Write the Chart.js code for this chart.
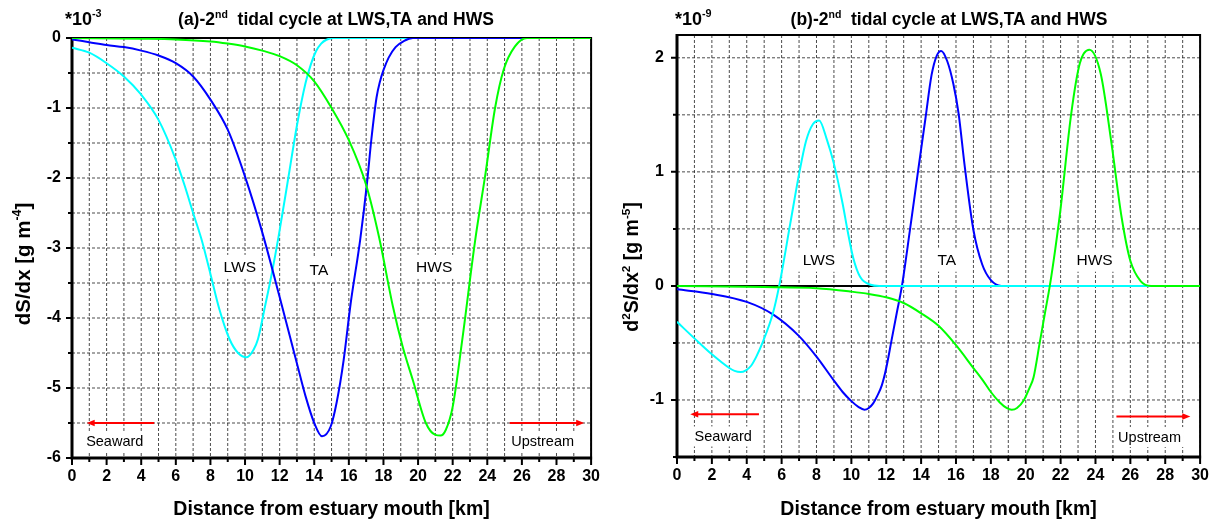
<!DOCTYPE html>
<html>
<head>
<meta charset="utf-8">
<script src="https://cdn.jsdelivr.net/npm/chart.js@4.4.1/dist/chart.umd.min.js"></script>
<style>
  html, body { margin: 0; padding: 0; background: #fff; }
  #wrap { position: relative; width: 1218px; height: 526px; overflow: hidden; background: #fff; }
  #wrap canvas { position: absolute; top: 0; }
  #panelA { left: 0; }
  #panelB { left: 609px; }
</style>
</head>
<body>
<div id="wrap">
  <canvas id="panelA" width="609" height="526"></canvas>
  <canvas id="panelB" width="609" height="526"></canvas>
</div>
<script>
const FONT = "'Liberation Sans', Arial, Helvetica, sans-serif";

// ---- (a) salinity gradient dS/dx  [x 1e-3 g m^-4] ----
const kmLwsA = [0, 1, 2, 3, 4, 5, 6, 6.5, 7, 7.5, 8, 8.5, 9.1, 9.6, 10.1, 10.5, 10.75, 11.15, 11.55, 11.95, 12.5, 13, 13.5, 13.8, 14.1, 14.4, 14.7, 15.1, 30];
const dSdxLws = [-0.14, -0.21, -0.36, -0.55, -0.81, -1.17, -1.74, -2.1, -2.5, -2.89, -3.37, -3.86, -4.3, -4.5, -4.56, -4.45, -4.3, -3.84, -3.36, -2.82, -2.0, -1.25, -0.64, -0.38, -0.19, -0.08, -0.025, 0, 0];

const kmTaA = [0, 1, 2, 3, 4, 5, 6, 7, 8, 9, 10, 11, 12, 13, 13.5, 14, 14.45, 14.95, 15.3, 15.7, 16.1, 16.65, 17.05, 17.3, 17.6, 17.8, 18.0, 18.3, 18.7, 19.2, 19.7, 30];
const dSdxTa = [-0.02, -0.06, -0.1, -0.13, -0.18, -0.25, -0.36, -0.55, -0.88, -1.31, -1.98, -2.78, -3.7, -4.65, -5.12, -5.5, -5.69, -5.55, -5.2, -4.6, -3.8, -2.89, -2.07, -1.45, -0.85, -0.62, -0.46, -0.28, -0.13, -0.04, 0, 0];

const kmHwsA = [0, 4, 6, 8, 9, 10, 11, 12, 13, 14, 15, 16, 17, 17.75, 18.55, 19.1, 19.7, 20.45, 21.0, 21.3, 21.6, 22.0, 22.55, 23.3, 23.9, 24.45, 24.95, 25.6, 26.3, 30];
const dSdxHws = [0, -0.01, -0.02, -0.05, -0.08, -0.12, -0.18, -0.26, -0.39, -0.62, -1.0, -1.46, -2.1, -2.85, -3.84, -4.4, -4.89, -5.5, -5.67, -5.68, -5.6, -5.27, -4.32, -2.89, -1.93, -1.0, -0.45, -0.12, 0, 0];

// ---- (b) curvature d2S/dx2  [x 1e-9 g m^-5] ----
const kmLwsB = [0, 1, 2, 3, 3.3, 3.65, 3.95, 4.25, 4.55, 4.9, 5.5, 5.86, 6.5, 7, 7.4, 7.8, 8.15, 8.6, 9, 9.5, 9.8, 10.1, 10.5, 11.1, 11.6, 30];
const d2SLws = [-0.315, -0.46, -0.6, -0.72, -0.745, -0.755, -0.74, -0.7, -0.62, -0.5, -0.24, 0, 0.55, 0.98, 1.27, 1.42, 1.45, 1.28, 1.07, 0.72, 0.47, 0.25, 0.08, 0.01, 0, 0];

const kmTaB = [0, 2, 4, 5.5, 7, 8, 9, 9.5, 10, 10.4, 10.75, 11.0, 11.25, 11.5, 11.75, 12.0, 12.3, 12.6, 12.9, 13.35, 13.8, 14.25, 14.6, 14.9, 15.15, 15.5, 15.85, 16.15, 16.5, 17, 17.5, 18, 18.6, 30];
const d2STa = [-0.03, -0.07, -0.14, -0.25, -0.44, -0.62, -0.83, -0.93, -1.01, -1.06, -1.085, -1.07, -1.03, -0.96, -0.87, -0.72, -0.48, -0.24, 0, 0.48, 0.98, 1.47, 1.85, 2.02, 2.06, 1.97, 1.77, 1.51, 1.05, 0.49, 0.19, 0.05, 0, 0];

const kmHwsB = [0, 5, 8, 10, 11, 12, 13, 14, 15, 16, 17, 17.55, 18, 18.5, 18.9, 19.2, 19.5, 19.9, 20.2, 20.45, 20.8, 21.1, 21.38, 21.7, 22, 22.6, 23.1, 23.65, 24.3, 24.9, 25.5, 26, 26.6, 27.2, 30];
const d2SHws = [0, -0.01, -0.02, -0.05, -0.07, -0.1, -0.15, -0.24, -0.35, -0.52, -0.72, -0.83, -0.93, -1.02, -1.07, -1.085, -1.07, -1.0, -0.9, -0.8, -0.5, -0.24, 0, 0.33, 0.68, 1.5, 1.95, 2.07, 1.86, 1.27, 0.6, 0.22, 0.04, 0, 0];

const kmZero = [0, 30];
const zeroLine = [0, 0];

// ---- tick labels ----
const xTickLabels = [0, 2, 4, 6, 8, 10, 12, 14, 16, 18, 20, 22, 24, 26, 28, 30];
const yTickLabelsA = [0, -1, -2, -3, -4, -5, -6];
const yTickLabelsB = [-1, 0, 1, 2];

// ---- phase labels and direction notes (data coordinates) ----
const phaseLabelsA = [['LWS', 9.7, -3.27], ['TA', 14.27, -3.31], ['HWS', 20.93, -3.27]];
const phaseLabelsB = [['LWS', 8.14, 0.23], ['TA', 15.47, 0.23], ['HWS', 23.95, 0.23]];
// [text, textX, textY, arrowTail, arrowHead, arrowY]
const directionA = [['Seaward', 2.47, -5.76, 4.75, 0.85, -5.5], ['Upstream', 27.2, -5.76, 25.3, 29.6, -5.5]];
const directionB = [['Seaward', 2.65, -1.32, 4.7, 0.76, -1.125], ['Upstream', 27.1, -1.325, 25.2, 29.44, -1.145]];

const CYAN = '#00ffff', BLUE = '#0000ff', GREEN = '#00ff00';

function series(xs, ys, color, width) {
  return {
    data: xs.map((x, i) => ({ x, y: ys[i] })),
    borderColor: color,
    borderWidth: width || 2,
    pointRadius: 0,
    fill: false,
    cubicInterpolationMode: 'monotone'
  };
}

function drawRich(ctx, parts, x, y, size, align) {
  const fontFor = sup => `bold ${sup ? size * 0.6 : size}px ${FONT}`;
  let total = 0;
  parts.forEach(([t, sup]) => { ctx.font = fontFor(sup); total += ctx.measureText(t).width; });
  let cx = align === 'center' ? x - total / 2 : x;
  ctx.textAlign = 'left';
  ctx.textBaseline = 'alphabetic';
  parts.forEach(([t, sup]) => {
    ctx.font = fontFor(sup);
    ctx.fillText(t, cx, sup ? y - size * 0.42 : y);
    cx += ctx.measureText(t).width;
  });
}

function arrow(ctx, x0, x1, y) {
  const dir = x1 > x0 ? 1 : -1;
  ctx.beginPath();
  ctx.moveTo(x0, y);
  ctx.lineTo(x1 - dir * 6, y);
  ctx.stroke();
  ctx.beginPath();
  ctx.moveTo(x1, y);
  ctx.lineTo(x1 - dir * 8, y - 3.2);
  ctx.lineTo(x1 - dir * 8, y + 3.2);
  ctx.closePath();
  ctx.fill();
}

function makeDecor(p) {
  return {
    id: 'decor',
    beforeDatasetsDraw(chart) {
      const { ctx, chartArea: a, scales: { x, y } } = chart;
      ctx.save();
      // dashed grid every 1 km and every 0.5 units
      ctx.strokeStyle = 'rgba(30,30,30,0.8)';
      ctx.lineWidth = 1;
      ctx.setLineDash([3, 2]);
      ctx.beginPath();
      for (let v = 0; v <= 30; v++) {
        const px = x.getPixelForValue(v);
        ctx.moveTo(px, a.top); ctx.lineTo(px, a.bottom);
      }
      for (let v = p.yMin; v <= p.yMax + 1e-9; v += 0.5) {
        const py = y.getPixelForValue(v);
        ctx.moveTo(a.left, py); ctx.lineTo(a.right, py);
      }
      ctx.stroke();
      ctx.setLineDash([]);

      // frame: heavier left and bottom axes
      ctx.strokeStyle = '#000';
      ctx.lineWidth = 2;
      ctx.beginPath();
      ctx.moveTo(a.left, a.top); ctx.lineTo(a.right, a.top); ctx.lineTo(a.right, a.bottom);
      ctx.stroke();
      ctx.lineWidth = 3;
      ctx.beginPath();
      ctx.moveTo(a.left, a.top - 1); ctx.lineTo(a.left, a.bottom); ctx.lineTo(a.right + 1, a.bottom);
      ctx.stroke();

      // outward tick marks
      ctx.lineWidth = 2;
      ctx.beginPath();
      for (let v = 0; v <= 30; v++) {
        const px = x.getPixelForValue(v);
        const len = v % 2 === 0 ? 7 : 4;
        ctx.moveTo(px, a.bottom); ctx.lineTo(px, a.bottom + len);
      }
      for (let v = p.yMin; v <= p.yMax + 1e-9; v += 0.5) {
        const py = y.getPixelForValue(v);
        const len = Number.isInteger(v) ? 6 : 4;
        ctx.moveTo(a.left, py); ctx.lineTo(a.left - len, py);
      }
      ctx.stroke();

      // phase labels on white backing
      ctx.font = `15.5px ${FONT}`;
      ctx.textAlign = 'center';
      ctx.textBaseline = 'middle';
      p.labels.forEach(([t, lx, ly]) => {
        const px = x.getPixelForValue(lx), py = y.getPixelForValue(ly);
        const w = ctx.measureText(t).width + 10;
        ctx.fillStyle = '#fff';
        ctx.fillRect(px - w / 2, py - 12, w, 24);
        ctx.fillStyle = '#000';
        ctx.fillText(t, px, py + 1);
      });

      // direction notes
      ctx.font = `14.5px ${FONT}`;
      p.dirs.forEach(([t, tx, ty, a0, a1, ay]) => {
        const px = x.getPixelForValue(tx), py = y.getPixelForValue(ty);
        const w = ctx.measureText(t).width + 6;
        ctx.fillStyle = '#fff';
        ctx.fillRect(px - w / 2, py - 10, w, 20);
        ctx.fillStyle = '#000';
        ctx.fillText(t, px, py + 1);
        ctx.strokeStyle = '#ff0000';
        ctx.fillStyle = '#ff0000';
        ctx.lineWidth = 2;
        arrow(ctx, x.getPixelForValue(a0), x.getPixelForValue(a1), y.getPixelForValue(ay));
      });

      // panel title, multiplier and y-axis title
      ctx.fillStyle = '#000';
      drawRich(ctx, p.title, p.titleX, 25, 17.5, 'center');
      drawRich(ctx, p.mult, p.multX, 25, 18, 'left');
      ctx.translate(p.yTitleX, p.yTitleY);
      ctx.rotate(-Math.PI / 2);
      drawRich(ctx, p.yTitle, 0, 7, p.yTitleSize, 'center');
      ctx.restore();
    }
  };
}

function makePanel(id, p) {
  return new Chart(document.getElementById(id), {
    type: 'line',
    data: { datasets: p.datasets },
    options: {
      responsive: false,
      animation: false,
      events: [],
      layout: { padding: { left: 0, right: p.padR, top: p.padT, bottom: 0 } },
      plugins: { legend: { display: false }, tooltip: { enabled: false }, title: { display: false } },
      scales: {
        x: {
          type: 'linear', min: 0, max: 30,
          grid: { display: false, drawTicks: false }, border: { display: false },
          afterBuildTicks: s => { s.ticks = []; for (let v = 0; v <= 30; v++) s.ticks.push({ value: v }); },
          ticks: {
            autoSkip: false, maxRotation: 0, padding: 9, color: '#000',
            font: { family: FONT, size: 16, weight: 'bold' },
            callback: v => xTickLabels.includes(v) ? String(v) : ''
          },
          title: {
            display: true, text: 'Distance from estuary mouth [km]', color: '#000',
            font: { family: FONT, size: 19.5, weight: 'bold' }, padding: { top: 0, bottom: 5 }
          },
          afterFit: s => { s.height = p.xH; }
        },
        y: {
          type: 'linear', min: p.yMin, max: p.yMax,
          grid: { display: false, drawTicks: false }, border: { display: false },
          afterBuildTicks: s => { s.ticks = []; for (let v = p.yMin; v <= p.yMax + 1e-9; v += 0.5) s.ticks.push({ value: v }); },
          ticks: {
            autoSkip: false, padding: p.yPad, color: '#000',
            font: { family: FONT, size: 16, weight: 'bold' },
            callback: v => p.yLabels.includes(v) ? String(v) : ''
          },
          afterFit: s => { s.width = p.yW; }
        }
      }
    },
    plugins: [makeDecor(p)]
  });
}

makePanel('panelA', {
  datasets: [
    series(kmHwsA, dSdxHws, GREEN),
    series(kmTaA, dSdxTa, BLUE),
    series(kmLwsA, dSdxLws, CYAN)
  ],
  yMin: -6, yMax: 0, yLabels: yTickLabelsA,
  yW: 72, padR: 16, padT: 38, xH: 68, yPad: 11,
  labels: phaseLabelsA, dirs: directionA,
  title: [['(a)-2', 0], ['nd', 1], ['  tidal cycle at LWS,TA and HWS', 0]], titleX: 336,
  mult: [['*10', 0], ['-3', 1]], multX: 65,
  yTitle: [['dS/dx [g m', 0], ['-4', 1], [']', 0]], yTitleX: 23, yTitleY: 264, yTitleSize: 20.5
});

makePanel('panelB', {
  datasets: [
    series(kmHwsB, d2SHws, GREEN),
    series(kmLwsB, d2SLws, CYAN),
    series(kmTaB, d2STa, BLUE),
    series(kmZero, zeroLine, '#000000')
  ],
  yMin: -1.5, yMax: 2.2, yLabels: yTickLabelsB,
  yW: 68, padR: 15, padT: 35, xH: 69, yPad: 13,
  labels: phaseLabelsB, dirs: directionB,
  title: [['(b)-2', 0], ['nd', 1], ['  tidal cycle at LWS,TA and HWS', 0]], titleX: 340,
  mult: [['*10', 0], ['-9', 1]], multX: 66,
  yTitle: [['d', 0], ['2', 1], ['S/dx', 0], ['2', 1], [' [g m', 0], ['-5', 1], [']', 0]], yTitleX: 22, yTitleY: 267, yTitleSize: 19.5
});
</script>
</body>
</html>
